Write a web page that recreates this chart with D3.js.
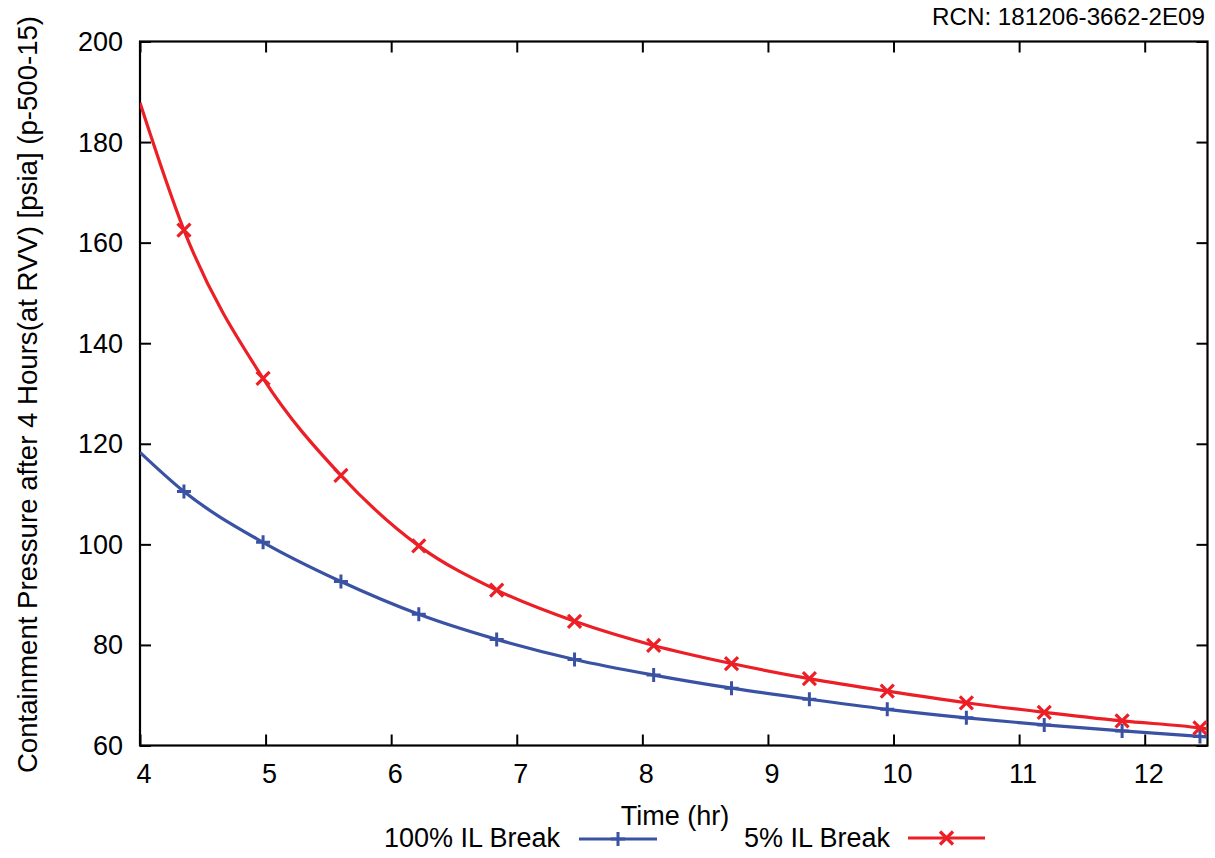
<!DOCTYPE html>
<html>
<head>
<meta charset="utf-8">
<script src="https://cdn.jsdelivr.net/npm/d3@7"></script>
<style>
  html, body { margin: 0; padding: 0; background: #fff; }
  svg { display: block; }
  text { font-family: "Liberation Sans", Arial, Helvetica, sans-serif; fill: #000; }
</style>
</head>
<body>
<svg id="chart" width="1215" height="858"></svg>
<script>
// ---- data ----
const xTicks = [4, 5, 6, 7, 8, 9, 10, 11, 12];
const yTicks = [60, 80, 100, 120, 140, 160, 180, 200];

// sample times (hr): curve start, marker positions, curve end
const times = [4.0, 4.35, 4.98, 5.6, 6.22, 6.84, 7.46, 8.09, 8.71, 9.33, 9.95, 10.58, 11.2, 11.82, 12.44, 12.5];
const break100 = [118.3, 110.5, 100.4, 92.6, 86.1, 81.1, 77.1, 74.0, 71.4, 69.2, 67.2, 65.5, 64.1, 62.9, 61.8, 61.7];
const break5 = [187.8, 162.5, 133.0, 113.7, 99.7, 90.9, 84.7, 79.9, 76.3, 73.3, 70.8, 68.5, 66.6, 64.9, 63.5, 63.3];
const markerIdx = [1, 2, 3, 4, 5, 6, 7, 8, 9, 10, 11, 12, 13, 14];

const seriesNames = ["100% IL Break", "5% IL Break"];
const seriesColors = ["#3a52a3", "#ec1f26"];
const seriesMarkers = ["plus", "cross"];

const yLabel = "Containment Pressure after 4 Hours(at RVV) [psia] (p-500-15)";
const xLabel = "Time (hr)";
const rcn = "RCN: 181206-3662-2E09";

// ---- layout ----
const svg = d3.select("#chart");
const L = 140, R = 1207.5, T = 41.5, B = 745.5;
const x = d3.scaleLinear().domain([4, 12.5]).range([L, R]);
const y = d3.scaleLinear().domain([60, 200]).range([B, T]);
const FS = 27;
const tickLen = 11;

// clip
svg.append("defs").append("clipPath").attr("id", "clip")
  .append("rect").attr("x", L).attr("y", T).attr("width", R - L).attr("height", B - T);

// axes with inward ticks (mirrored)
function styleAxis(g) {
  g.select(".domain").remove();
  g.selectAll(".tick line").attr("stroke", "#000").attr("stroke-width", 2);
  g.selectAll(".tick text").remove();
}
svg.append("g").attr("transform", `translate(0,${B})`)
  .call(d3.axisBottom(x).tickValues(xTicks).tickSize(-tickLen)).call(styleAxis);
svg.append("g").attr("transform", `translate(0,${T})`)
  .call(d3.axisTop(x).tickValues(xTicks).tickSize(-tickLen)).call(styleAxis);
svg.append("g").attr("transform", `translate(${L},0)`)
  .call(d3.axisLeft(y).tickValues(yTicks).tickSize(-tickLen)).call(styleAxis);
svg.append("g").attr("transform", `translate(${R},0)`)
  .call(d3.axisRight(y).tickValues(yTicks).tickSize(-tickLen)).call(styleAxis);

// tick labels
svg.append("g").selectAll("text").data(xTicks).join("text")
  .attr("x", d => x(d) + 4).attr("y", 783)
  .attr("text-anchor", "middle").attr("font-size", FS)
  .text(d => d);
svg.append("g").selectAll("text").data(yTicks).join("text")
  .attr("x", 123).attr("y", d => y(d) + 9.5)
  .attr("text-anchor", "end").attr("font-size", FS)
  .text(d => d);

// frame
svg.append("rect").attr("x", L).attr("y", T).attr("width", R - L).attr("height", B - T)
  .attr("fill", "none").attr("stroke", "#000").attr("stroke-width", 2.2);

// series
const allSeries = [break100, break5];
const line = d3.line().x(d => x(d[0])).y(d => y(d[1])).curve(d3.curveMonotoneX);

function drawMarker(g, type, cx, cy, color) {
  const s = 7;
  if (type === "plus") {
    g.append("path").attr("d", `M${cx - s},${cy}H${cx + s}M${cx},${cy - s}V${cy + s}`)
      .attr("stroke", color).attr("stroke-width", 3).attr("fill", "none");
  } else {
    const c = 6.5;
    g.append("path").attr("d", `M${cx - c},${cy - c}L${cx + c},${cy + c}M${cx - c},${cy + c}L${cx + c},${cy - c}`)
      .attr("stroke", color).attr("stroke-width", 3.2).attr("fill", "none");
  }
}

const plot = svg.append("g").attr("clip-path", "url(#clip)");
allSeries.forEach((vals, i) => {
  const pts = times.map((t, j) => [t, vals[j]]);
  plot.append("path").datum(pts).attr("d", line)
    .attr("fill", "none").attr("stroke", seriesColors[i]).attr("stroke-width", 3.2)
    .attr("stroke-linejoin", "round");
});
const mk = svg.append("g");
allSeries.forEach((vals, i) => {
  markerIdx.forEach(j => drawMarker(mk, seriesMarkers[i], x(times[j]), y(vals[j]), seriesColors[i]));
});

// axis titles
svg.append("text").attr("x", 675).attr("y", 825).attr("text-anchor", "middle")
  .attr("font-size", FS).text(xLabel);
svg.append("text").attr("transform", `translate(37,${(T + B) / 2 + 1}) rotate(-90)`)
  .attr("text-anchor", "middle").attr("font-size", 27.6).text(yLabel);
svg.append("text").attr("x", 1205).attr("y", 25).attr("text-anchor", "end")
  .attr("font-size", 24.2).text(rcn);

// legend
const legend = [
  { textEnd: 560, x1: 579, x2: 657, ly: 839 },
  { textEnd: 890, x1: 908, x2: 985, ly: 838 }
];
legend.forEach((lg, i) => {
  svg.append("text").attr("x", lg.textEnd).attr("y", 847).attr("text-anchor", "end")
    .attr("font-size", FS).text(seriesNames[i]);
  svg.append("line").attr("x1", lg.x1).attr("x2", lg.x2).attr("y1", lg.ly).attr("y2", lg.ly)
    .attr("stroke", seriesColors[i]).attr("stroke-width", 3.2);
  drawMarker(svg, seriesMarkers[i], (lg.x1 + lg.x2) / 2, lg.ly, seriesColors[i]);
});
</script>
</body>
</html>
